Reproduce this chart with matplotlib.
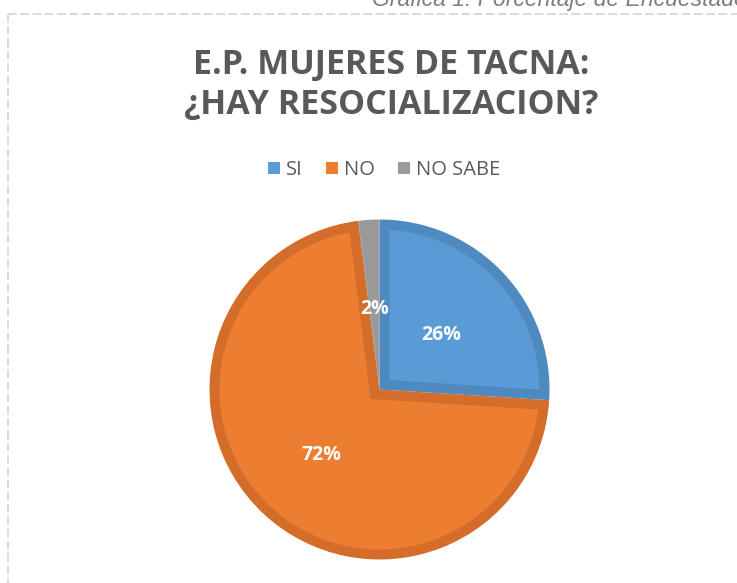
import numpy as np
import matplotlib.pyplot as plt
from matplotlib.patches import Patch, Polygon
from matplotlib.lines import Line2D

# Data
categories = ['SI', 'NO', 'NO SABE']
values = [26, 72, 2]
colors = ['#5B9BD5', '#ED7D31', '#9A9A9A']
edge_colors = ['#4E89C0', '#D46C2A', '#9A9A9A']

title = 'E.P. MUJERES DE TACNA:\n¿HAY RESOCIALIZACION?'
caption = 'Gráfica 1: Porcentaje de Encuestados'

W, H = 737, 583
fig = plt.figure(figsize=(W / 100, H / 100), dpi=100)
fig.patch.set_facecolor('white')

# Pie axes: centre (379.5, 389.5) px, radius 170 px
cx, cy, r = 379.5, 389.5, 170
ax = fig.add_axes([(cx - r) / W, (H - cy - r) / H, 2 * r / W, 2 * r / H])

# base pie in the darker border colour
wedges, texts, autotexts = ax.pie(
    values, colors=edge_colors, startangle=90, counterclock=False, radius=1,
    autopct='%1.0f%%', pctdistance=0.5,
    wedgeprops=dict(linewidth=0),
    textprops=dict(color='white', fontsize=14, fontweight='bold', family='Open Sans'),
)
ax.set_xlim(-1, 1)
ax.set_ylim(-1, 1)
ax.set_aspect('equal')
ax.axis('off')

# labels sit a few pixels lower in the reference
for t in autotexts:
    t.set_y(t.get_position()[1] - 4 / r)


def inset_wedge(w, d, n=200):
    """polygon of the wedge shrunk by d on every side (inner border)"""
    c = np.array(w.center)
    t1, t2 = np.radians(w.theta1), np.radians(w.theta2)
    span = t2 - t1
    ri = w.r - d
    mid = (t1 + t2) / 2
    vertex = c + d / np.sin(span / 2) * np.array([np.cos(mid), np.sin(mid)])
    da = np.arcsin(d / ri)
    a = np.linspace(t1 + da, t2 - da, n)
    arc = c + ri * np.column_stack([np.cos(a), np.sin(a)])
    return np.vstack([vertex, arc])


d = 10 / r
for w, fc in zip(wedges, colors):
    ax.add_patch(Polygon(inset_wedge(w, d), closed=True, facecolor=fc,
                         edgecolor='none', zorder=1.5))

# Title
fig.text(391 / W, 1 - 85 / H, title, ha='center', va='center', fontsize=24.5,
         fontweight='bold', color='#595959', family='Open Sans', linespacing=1.24)

# Legend
handles = [Patch(facecolor=c, edgecolor='none') for c in colors]
fig.legend(handles, categories, loc='center', bbox_to_anchor=(384 / W, 1 - 170 / H),
           ncol=3, frameon=False, handlelength=0.6, handleheight=0.6,
           handletextpad=0.3, columnspacing=1.15,
           prop=dict(family='Open Sans', size=14.5), labelcolor='#595959')

# Caption cut at the top right
fig.text(372 / W, 1 - 6 / H, caption, ha='left', va='baseline', fontsize=16.5,
         style='italic', color='#7F7F7F', family='Liberation Sans')

# Dashed chart border (left and top)
border = dict(color='#D9D9D9', linewidth=1.4, linestyle=(0, (4.5, 1.8)))
fig.add_artist(Line2D([8 / W, 8 / W], [1 - 14 / H, 0], transform=fig.transFigure, **border))
fig.add_artist(Line2D([8 / W, 1], [1 - 14 / H, 1 - 14 / H], transform=fig.transFigure, **border))

fig.savefig('out.png', dpi=100, facecolor='white')
